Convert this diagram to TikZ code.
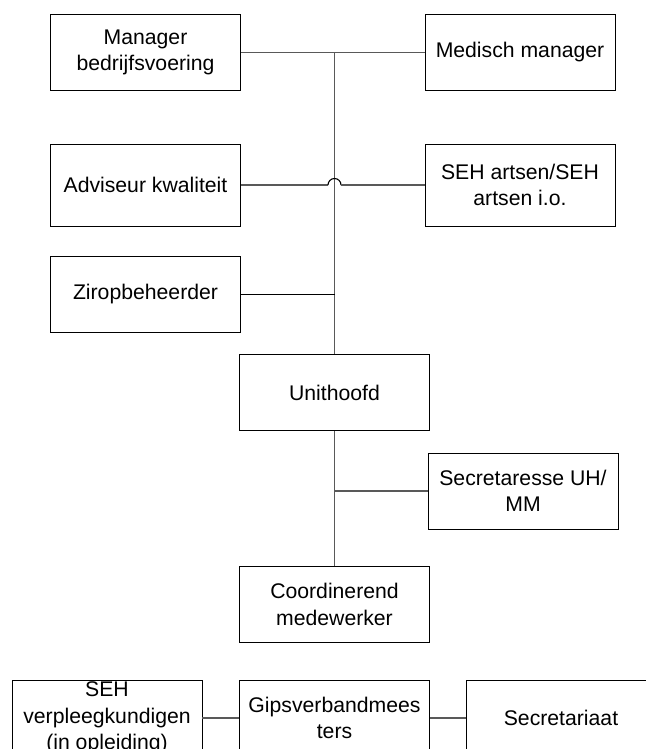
\documentclass[tikz,border=0pt]{standalone}
\usepackage{fontspec}
\setmainfont{Liberation Sans}
\begin{document}
\begin{tikzpicture}[x=1pt,y=1pt,
  orgbox/.style={draw=black, line width=0.8pt, rectangle, minimum width=190pt, minimum height=76pt, inner sep=0pt, align=center, font=\fontsize{21.2}{26.5}\selectfont},
  conn/.style={draw=black!65, line width=1.1pt}]
\useasboundingbox (0,0) rectangle (645,-749);
\node[orgbox] (mgr) at (145.5,-52.5) {Manager\\bedrijfsvoering};
\node[orgbox] (med) at (520,-52.5) {Medisch manager};
\node[orgbox, minimum height=82pt] (adv) at (145.5,-185) {Adviseur kwaliteit};
\node[orgbox, minimum height=82pt] (arts) at (520,-185) {SEH artsen/SEH\\artsen i.o.};
\node[orgbox] (zir) at (145.5,-294.5) {Ziropbeheerder};
\node[orgbox] (unit) at (334.5,-392.5) {Unithoofd};
\node[orgbox] (secr) at (523,-491) {Secretaresse UH/\\MM};
\node[orgbox] (coord) at (334.5,-604.5) {Coordinerend\\medewerker};
\node[orgbox] (verpl) at (107,-718) {SEH\\verpleegkundigen\\(in opleiding)};
\node[orgbox] (gips) at (334.5,-718) {Gipsverbandmees\\ters};
\node[orgbox] (secrt) at (561,-718) {Secretariaat};
\coordinate (jtop) at (334.5,-52.5);
\coordinate (hopL) at (328,-185);
\coordinate (hopR) at (341,-185);
\coordinate (jzir) at (334.5,-294.5);
\coordinate (jsec) at (334.5,-491);
\draw[conn] (mgr.east) -- (med.west);
\draw[conn] (jtop) -- (unit.north);
\draw[conn] (adv.east) -- (hopL);
\draw[line width=1.1pt, black] (hopL) arc (180:0:6.5);
\draw[conn] (hopR) -- (arts.west);
\draw[conn, draw=black] (zir.east) -- (jzir);
\draw[conn] (unit.south) -- (coord.north);
\draw[conn] (secr.west) -- (jsec);
\draw[conn] (verpl.east) -- (gips.west);
\draw[conn] (gips.east) -- (secrt.west);
\end{tikzpicture}
\end{document}
